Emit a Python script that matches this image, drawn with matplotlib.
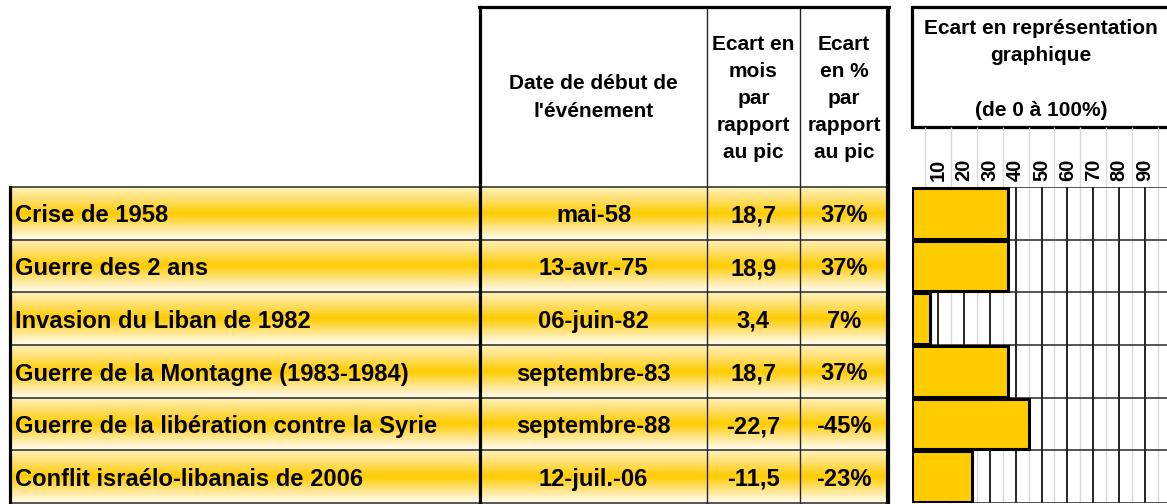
import matplotlib
matplotlib.use('Agg')
import matplotlib.pyplot as plt
import numpy as np
from matplotlib.colors import LinearSegmentedColormap
from matplotlib.patches import Rectangle

# ---------------- data ----------------
events = ["Crise de 1958", "Guerre des 2 ans", "Invasion du Liban de 1982",
          "Guerre de la Montagne (1983-1984)",
          "Guerre de la libération contre la Syrie",
          "Conflit israélo-libanais de 2006"]
dates = ["mai-58", "13-avr.-75", "06-juin-82", "septembre-83", "septembre-88", "12-juil.-06"]
ecart_mois = [18.7, 18.9, 3.4, 18.7, -22.7, -11.5]
ecart_pct = [37, 37, 7, 37, -45, -23]
tick_values = [10, 20, 30, 40, 50, 60, 70, 80, 90]

header_date = "Date de début de\nl'événement"
header_mois = "Ecart en\nmois\npar\nrapport\nau pic"
header_pct = "Ecart\nen %\npar\nrapport\nau pic"
header_chart = "Ecart en représentation\ngraphique\n\n(de 0 à 100%)"

# ---------------- layout (pixels) ----------------
W, H = 1167, 504
FONT = ['Liberation Sans', 'DejaVu Sans']
plt.rcParams['font.family'] = FONT

fig = plt.figure(figsize=(W / 100, H / 100), dpi=100)
fig.patch.set_facecolor('white')

tab = fig.add_axes([0, 0, 1, 1])
tab.set_axis_off()

row_top = 187.0
row_bot = 503.0
n = len(events)
rh = (row_bot - row_top) / n
x_c1, x_c2, x_c3, x_c4, x_end = 10, 480, 707, 800, 888

cmap = LinearSegmentedColormap.from_list(
    'rowgrad', [(0.0, '#FFF1B8'), (0.22, '#FFE071'), (0.5, '#FFCC00'),
                (0.75, '#FFE484'), (1.0, '#FFFDF3')])
grad = np.linspace(0, 1, 64).reshape(-1, 1)

ROWFS = 17.1
for i in range(n):
    y0 = row_top + i * rh
    y1 = y0 + rh
    tab.imshow(grad, cmap=cmap, extent=[x_c1, x_end, y1, y0], aspect='auto',
               interpolation='bilinear', zorder=1)
    base = y0 + 35.5
    tab.text(15, base, events[i], fontsize=ROWFS, fontweight='bold', va='baseline',
             ha='left', zorder=3)
    tab.text((x_c2 + x_c3) / 2, base, dates[i], fontsize=ROWFS, fontweight='bold',
             va='baseline', ha='center', zorder=3)
    tab.text((x_c3 + x_c4) / 2, base, f"{ecart_mois[i]:.1f}".replace('.', ','),
             fontsize=ROWFS, fontweight='bold', va='baseline', ha='center', zorder=3)
    tab.text((x_c4 + x_end) / 2, base, f"{ecart_pct[i]}%", fontsize=ROWFS,
             fontweight='bold', va='baseline', ha='center', zorder=3)

# row separators
for i in range(n + 1):
    y = row_top + i * rh
    tab.plot([x_c1, x_end], [y, y], color='#262626', lw=1.1, zorder=4,
             solid_capstyle='butt')

# column lines
tab.plot([x_c1, x_c1], [row_top, H + 5], color='black', lw=2.3, zorder=5)
tab.plot([x_c2, x_c2], [7, H + 5], color='black', lw=2.3, zorder=5)
tab.plot([x_c3, x_c3], [7, H + 5], color='#262626', lw=1.0, zorder=5)
tab.plot([x_c4, x_c4], [7, H + 5], color='#262626', lw=1.0, zorder=5)
tab.plot([x_end, x_end], [7, H + 5], color='black', lw=3.0, zorder=5,
         solid_capstyle='butt')
tab.plot([x_c2 - 1, x_end + 1], [7, 7], color='black', lw=2.3, zorder=5)

# headers
hdr_kw = dict(fontsize=15, fontweight='bold', ha='center', va='center',
              linespacing=1.55, zorder=7)
tab.text((x_c2 + x_c3) / 2, 97.5, header_date, **hdr_kw)
tab.text((x_c3 + x_c4) / 2, 98.5, header_mois, **hdr_kw)
tab.text((x_c4 + x_end) / 2, 98.5, header_pct, **hdr_kw)

# chart header box
tab.add_patch(Rectangle((912, 7), 280, 120, facecolor='white', edgecolor='black',
                        lw=2.3, zorder=5))
tab.text(1041, 69.5, header_chart, **hdr_kw)

tab.set_xlim(0, W)
tab.set_ylim(H, 0)

# ---------------- bar chart ----------------
x0_px, x100_px = 912, 1171
ax = fig.add_axes([x0_px / W, (H - row_bot) / H, (x100_px - x0_px) / W,
                   (row_bot - row_top) / H])
ax.set_facecolor('none')
ypos = np.arange(n)
ax.set_xlim(0, 100)
ax.set_ylim(n - 0.5, -0.5)

# light cell lines at 5, 15, ... 95 (extending up to the header box)
top_units = -0.5 + (127 - row_top) / rh
ax.vlines(np.arange(5, 100, 10), top_units, n - 0.5, color='#d9d9d9', lw=1.0,
          clip_on=False, zorder=0)
# row boundaries
for b in np.arange(-0.5, n, 1.0):
    ax.axhline(b, color='#262626', lw=1.1, zorder=1)

ax.set_xticks(tick_values)
ax.grid(axis='x', color='black', lw=1.2, zorder=1)
ax.set_axisbelow(True)

ax.barh(ypos, np.abs(ecart_pct), height=0.96, left=0, color='#FFCC00',
        edgecolor='black', lw=2.2, zorder=3)

ax.xaxis.tick_top()
ax.tick_params(axis='x', length=0, pad=4, labelsize=14.5, labelrotation=90)
for lbl in ax.get_xticklabels():
    lbl.set_fontweight('bold')
ax.set_yticks([])
for s in ax.spines.values():
    s.set_visible(False)

fig.savefig('out.png', dpi=100)
